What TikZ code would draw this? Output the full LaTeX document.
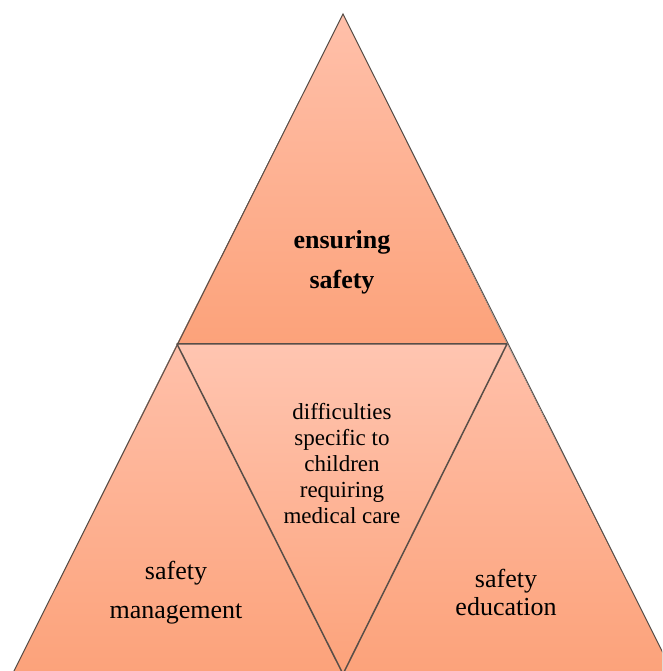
\documentclass[tikz,border=0pt]{standalone}
\usepackage{fontspec}
\setmainfont{Liberation Serif}
\definecolor{peachtop}{RGB}{255,192,170}
\definecolor{peachbot}{RGB}{252,162,122}
\definecolor{edgegray}{RGB}{88,78,72}
\tikzset{
  facet/.style={top color=peachtop, bottom color=peachbot, draw=none},
  lbl/.style={align=center, font=\fontsize{23}{26}\selectfont, text=black, inner sep=0pt},
}
\begin{document}
\begin{tikzpicture}[x=1pt,y=1pt]
\useasboundingbox (0,0) rectangle (662,671);
\clip (0,0) rectangle (662,671);
\coordinate (A) at (343,657);
\coordinate (L) at (177,327);
\coordinate (R) at (507,327);
\coordinate (BL) at (12.5,-3);
\coordinate (BM) at (343,-3);
\coordinate (BR) at (673.5,-3);
\fill[facet] (A) -- (L) -- (R) -- cycle;
\fill[facet] (L) -- (BL) -- (BM) -- cycle;
\fill[facet] (R) -- (BM) -- (BR) -- cycle;
\fill[facet, top color=peachtop!92!white] (L) -- (R) -- (BM) -- cycle;
\draw[edgegray, line width=1pt] (BL) -- (A) -- (BR);
\draw[edgegray, line width=1.5pt, line join=round] (L) -- (R) -- (BM) -- cycle;
\node[lbl, font=\fontsize{26}{40}\selectfont\bfseries] (top) at (342,409) {ensuring\\safety};
\node[lbl] (mid) at (342,207) {difficulties\\specific to\\children\\requiring\\medical care};
\node[lbl, font=\fontsize{26}{39}\selectfont] (left) at (176,78) {safety\\management};
\node[lbl, font=\fontsize{26}{28}\selectfont] (right) at (506,79) {safety\\education};
\end{tikzpicture}
\end{document}
